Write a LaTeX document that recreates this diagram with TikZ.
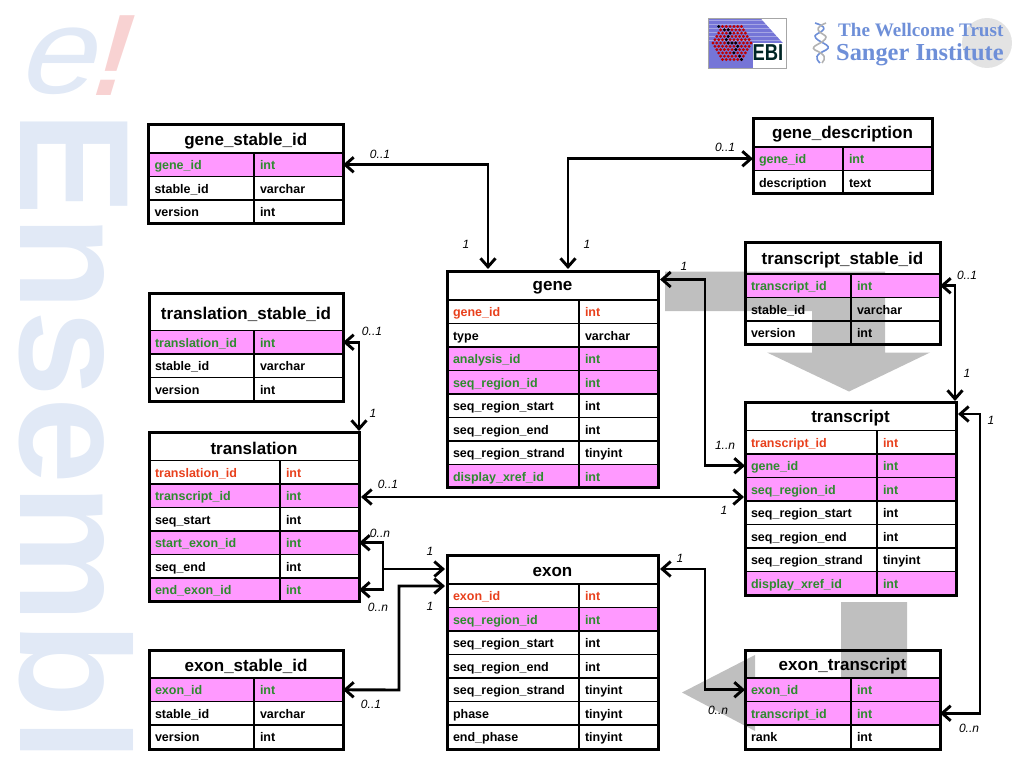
\documentclass[tikz,border=0pt]{standalone}
\usepackage{fontspec}
\setmainfont{Liberation Sans}
\newfontfamily\logoserif{Liberation Serif}
\usetikzlibrary{arrows.meta}
\definecolor{rowpink}{HTML}{FF99FF}
\definecolor{fkgreen}{HTML}{2E8B2E}
\definecolor{pkred}{HTML}{E8401C}
\definecolor{bandgray}{HTML}{BFBFBF}
\definecolor{markblue}{HTML}{E1E9F6}
\definecolor{markpink}{HTML}{F8D2D2}
\definecolor{logoblue}{HTML}{6E8FD8}
\tikzset{
  cell/.style={draw=black,line width=1.2pt,inner xsep=6pt,inner ysep=0pt,outer sep=0pt,
    minimum height=23.5pt,text height=11pt,text depth=1pt,anchor=north west,
    font=\fontsize{12.5}{14}\bfseries\selectfont},
  plainrow/.style={cell},
  keyrow/.style={cell,text=pkred},
  fkrow/.style={cell,text=fkgreen,fill=rowpink},
  tabletitle/.style={inner sep=0pt,yshift=-2pt,font=\fontsize{17}{20}\bfseries\selectfont},
  tableframe/.style={draw=black,line width=3pt},
  link/.style={draw=black,line width=2.9pt,{Straight Barb[length=8.5pt,width=15pt]}-{Straight Barb[length=8.5pt,width=15pt]}},
  stub/.style={draw=black,line width=2.9pt,-{Straight Barb[length=8.5pt,width=15pt]}},
  card/.style={inner sep=0pt,font=\fontsize{12}{14}\itshape\selectfont},
  band/.style={fill=bandgray,draw=none}
}
% id, x left, x right, x column, y top, y title bar, y bottom, title, rows
\newcommand{\dbtable}[9]{
  \node[tabletitle] (#1) at ({(#2+#3)/2},{(#5+#6)/2}) {#8};
  \foreach \rname/\rtype/\rstyle [count=\i] in {#9} {
    \node[\rstyle,text width={(#4-#2-12)*1pt}] (#1-\i) at (#2,{#6+(\i-1)*23.5}) {\rname};
    \node[\rstyle,text width={(#3-#4-12)*1pt}] (#1-\i-type) at (#4,{#6+(\i-1)*23.5}) {\rtype};
  }
  \draw[tableframe] (#2,#5) rectangle (#3,#7);
  \draw[tableframe,line width=1.6pt] (#2,#6) -- (#3,#6);
}
\begin{document}
\begin{tikzpicture}[x=1pt,y=-1pt]
    \useasboundingbox (0,0) rectangle (1024,768);
    %watermark
    \node[inner sep=0pt,text=markblue,rotate=-90,anchor=base west,font=\fontsize{156}{156}\bfseries\selectfont] (ensembl) at (20,111) {Ensembl};
    \node[inner sep=0pt,text=markblue,anchor=base,xslant=0.3,xscale=1.12,font=\fontsize{122}{122}\selectfont] (markE) at (53,93) {e};
    \node[inner sep=0pt,text=markpink,anchor=base,xslant=0.3,xscale=0.9,font=\fontsize{116}{116}\bfseries\selectfont] (markBang) at (104,95) {!};
    %EBI logo
    \fill[blue!55!gray!70] (708,18) rectangle (786,68);
    \foreach \y in {20,24,...,40} \fill[white,opacity=0.35] (708,\y) rectangle (786,\y+1.5);
    \fill[white] (760,17.5) -- (786.5,17.5) -- (786.5,43) -- (783,43) -- cycle;
    \fill[white] (753,43) rectangle (786,68);
    \draw[gray!70,line width=0.6pt] (708,18) rectangle (786,68);
    \foreach \q in {-5,...,5} \foreach \r in {-5,...,5} {
      \pgfmathsetmacro{\dist}{max(abs(\q),abs(\r),abs(\q+\r))}
      \ifdim\dist pt<5.5pt
        \fill[red!75!black] ({732+3.8*(\q+\r/2)},{43+3.3*\r}) circle (1.6);
      \fi
    }
    \foreach \q/\r in {-1/-5,0/-4,1/-4,1/-3,0/-2,-1/-1,-1/0,0/0,1/0,1/1,0/2,-1/3,0/4,0/5}
      \fill[black] ({732+3.8*(\q+\r/2)},{43+3.3*\r}) circle (1.6);
    \node[inner sep=0pt,text=black!70!teal,font=\fontsize{23}{23}\bfseries\selectfont,xscale=0.8] (ebi) at (768,53) {EBI};
    %Sanger logo
    \fill[gray!22] (987,43) circle (25);
    \draw[logoblue,line width=1.6pt] (815,23) .. controls (835,29) and (815,33) .. (815,36) .. controls (815,42) and (835,45) .. (826,50) .. controls (815,55) and (815,58) .. (820,63);
    \draw[gray!60,line width=1.6pt] (826,23) .. controls (808,30) and (826,34) .. (826,37) .. controls (826,43) and (808,46) .. (815,50) .. controls (826,55) and (826,58) .. (822,63);
    \node[inner sep=0pt,anchor=base west,text=logoblue,font=\fontsize{19.1}{20}\logoserif\bfseries\selectfont] (wellcome) at (838,37) {The Wellcome Trust};
    \node[inner sep=0pt,anchor=base west,text=logoblue,font=\fontsize{24.4}{25}\logoserif\bfseries\selectfont] (sanger) at (836,60) {Sanger Institute};
    %big gray arrows
    \fill[band] (665,271.5) -- (885,271.5) -- (885,352.5) -- (930,352.5) -- (849,391.5) -- (767,352.5) -- (812,352.5) -- (812,311) -- (665,311) -- cycle;
    \fill[band] (841,602) -- (907,602) -- (907,725) -- (755,725) -- (755,731) -- (682,692.5) -- (755,655) -- (755,678) -- (841,678) -- cycle;
    %tables
    \dbtable{gsid}{148.5}{343}{254}{124.5}{153}{223}{gene\_stable\_id}{gene\_id/int/fkrow,stable\_id/varchar/plainrow,version/int/plainrow}
    \dbtable{gdesc}{753}{932}{843}{118}{147}{193}{gene\_description}{gene\_id/int/fkrow,description/text/plainrow}
    \dbtable{tsid}{745}{940}{851}{242}{274}{344}{transcript\_stable\_id}{transcript\_id/int/fkrow,stable\_id/varchar/plainrow,version/int/plainrow}
    \dbtable{gene}{447}{658}{579}{271}{300}{487.5}{gene}{gene\_id/int/keyrow,type/varchar/plainrow,analysis\_id/int/fkrow,seq\_region\_id/int/fkrow,seq\_region\_start/int/plainrow,seq\_region\_end/int/plainrow,seq\_region\_strand/tinyint/plainrow,display\_xref\_id/int/fkrow}
    \dbtable{tlsid}{149}{343}{254}{293.5}{330.5}{401}{translation\_stable\_id}{translation\_id/int/fkrow,stable\_id/varchar/plainrow,version/int/plainrow}
    \dbtable{tl}{149}{359}{280}{432.5}{460.5}{601}{translation}{translation\_id/int/keyrow,transcript\_id/int/fkrow,seq\_start/int/plainrow,start\_exon\_id/int/fkrow,seq\_end/int/plainrow,end\_exon\_id/int/fkrow}
    \dbtable{tr}{745}{956}{877}{402.5}{430.5}{595.5}{transcript}{transcript\_id/int/keyrow,gene\_id/int/fkrow,seq\_region\_id/int/fkrow,seq\_region\_start/int/plainrow,seq\_region\_end/int/plainrow,seq\_region\_strand/tinyint/plainrow,display\_xref\_id/int/fkrow}
    \dbtable{exon}{447}{658}{579}{555}{584}{749}{exon}{exon\_id/int/keyrow,seq\_region\_id/int/fkrow,seq\_region\_start/int/plainrow,seq\_region\_end/int/plainrow,seq\_region\_strand/tinyint/plainrow,phase/tinyint/plainrow,end\_phase/tinyint/plainrow}
    \dbtable{esid}{149}{343}{254}{650}{678}{749}{exon\_stable\_id}{exon\_id/int/fkrow,stable\_id/varchar/plainrow,version/int/plainrow}
    \dbtable{et}{745}{940}{851}{650}{678}{749}{exon\_transcript}{exon\_id/int/fkrow,transcript\_id/int/fkrow,rank/int/plainrow}
    %connector ends on the tables
    \coordinate (geneTopA) at (488,269);
    \coordinate (geneTopB) at (568,269);
    \coordinate (geneSide) at (660,279.5);
    \coordinate (trTop) at (955,401);
    \coordinate (trSide) at (958,414);
    \coordinate (tlTop) at (359,431);
    \coordinate (exonA) at (445,569);
    \coordinate (exonB) at (445,586);
    \coordinate (exonSide) at (660,569);
    \coordinate (tlFork) at (383,569);
    \coordinate (tlSide) at (361,497);
    \coordinate (trLeft) at (744,497);
    %connectors
    \draw[link] (gsid-1-type.east) -| (geneTopA);
    \draw[link] (gdesc-1.west) -| (geneTopB);
    \draw[link] (geneSide) -- (705,279.5) |- (tr-2.west);
    \draw[link] (tsid-1-type.east) -| (trTop);
    \draw[link] (trSide) -- (980,414) |- (et-2-type.east);
    \draw[link] (tlsid-1-type.east) -| (tlTop);
    \draw[link] (tlSide) -- (trLeft);
    \draw[link] (tl-4-type.east) -| (tlFork) |- (tl-6-type.east);
    \draw[stub] (tlFork) -- (exonA);
    \draw[link] (esid-1-type.east) -- (399,690) |- (exonB);
    \draw[link] (exonSide) -- (705,569) |- (et-1.west);
    %cardinalities
    \node[card] (c1) at (380,154) {0..1};
    \node[card] (c2) at (466,244) {1};
    \node[card] (c3) at (725,147) {0..1};
    \node[card] (c4) at (587,244) {1};
    \node[card] (c5) at (684,266) {1};
    \node[card] (c6) at (967,275) {0..1};
    \node[card] (c7) at (967,373) {1};
    \node[card] (c8) at (991,420) {1};
    \node[card] (c9) at (725,445) {1..n};
    \node[card] (c10) at (372,331) {0..1};
    \node[card] (c11) at (373,413) {1};
    \node[card] (c12) at (388,484) {0..1};
    \node[card] (c13) at (724,510) {1};
    \node[card] (c14) at (380,533) {0..n};
    \node[card] (c15) at (430,551) {1};
    \node[card] (c16) at (430,606) {1};
    \node[card] (c17) at (378,607) {0..n};
    \node[card] (c18) at (371,704) {0..1};
    \node[card] (c19) at (680,558) {1};
    \node[card] (c20) at (718,710) {0..n};
    \node[card] (c21) at (969,728) {0..n};
\end{tikzpicture}
\end{document}
